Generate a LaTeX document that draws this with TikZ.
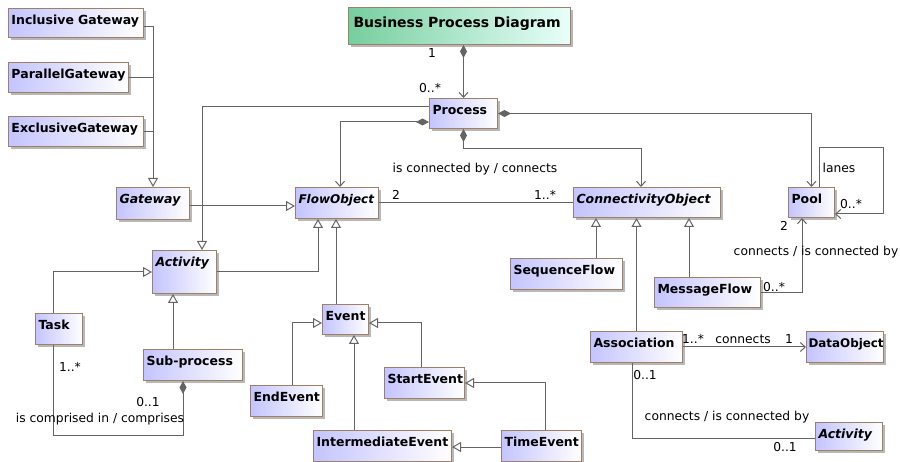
\documentclass[tikz,border=0pt]{standalone}
\usepackage{fontspec}
\setmainfont{DejaVu Sans}
\usetikzlibrary{arrows.meta,shadows}

\definecolor{clsblue}{RGB}{196,196,255}
\definecolor{clsedge}{RGB}{160,128,100}
\definecolor{diagleft}{RGB}{118,206,158}
\definecolor{diagright}{RGB}{232,255,250}
\definecolor{linegray}{RGB}{100,100,100}

\begin{document}
\begin{tikzpicture}[x=1pt, y=-1pt,
    cls/.style 2 args={draw=clsedge, line width=1pt, left color=clsblue, right color=white,
        drop shadow={shadow xshift=2.5pt, shadow yshift=-2.5pt, fill=black!28, opacity=1},
        anchor=north west, inner xsep=3pt, inner ysep=0pt, align=left,
        text width=#1pt-6pt, text height=16pt, text depth=#2pt-16pt,
        font=\bfseries\fontsize{12.5}{14}\selectfont},
    diagram/.style 2 args={cls={#1}{#2}, left color=diagleft, right color=diagright,
        inner xsep=5pt, text width=#1pt-10pt, text height=20pt, text depth=#2pt-20pt,
        font=\bfseries\fontsize{14}{16}\selectfont},
    abs/.style={font=\bfseries\itshape\fontsize{12.5}{14}\selectfont},
    lbl/.style={inner sep=0pt, font=\fontsize{12.3}{14}\selectfont},
    wire/.style={draw=linegray, line width=1pt},
    gen/.style={wire, -{Triangle[open, length=9pt, width=10pt]}},
    nav/.style={wire, -{Straight Barb[length=5pt, width=9pt]}},
    comp/.style={wire, {Diamond[length=13pt, width=7pt]}-{Straight Barb[length=5pt, width=9pt]}},
    owner/.style={wire, {Diamond[length=13pt, width=7pt]}-}]

    \useasboundingbox (0,0) rectangle (900,462);

    % Classes
    \node[diagram={222}{37}] (bpd) at (348,7) {Business~Process~Diagram};
    \node[cls={68}{30}] (proc) at (429,98) {Process};
    \node[cls={135}{29}] (incl) at (8,8) {Inclusive~Gateway};
    \node[cls={120}{30}] (par) at (8,62) {ParallelGateway};
    \node[cls={135}{30}] (excl) at (8,116) {ExclusiveGateway};
    \node[cls={73}{32}, abs] (gw) at (116,187) {Gateway};
    \node[cls={83}{31}, font=\bfseries\itshape\fontsize{12}{14}\selectfont] (flow) at (295,187) {FlowObject};
    \node[cls={147}{30}, abs] (cobj) at (573,187) {ConnectivityObject};
    \node[cls={46}{30}] (pool) at (788,187) {Pool};
    \node[cls={64}{43}, abs] (act) at (152,250) {Activity};
    \node[cls={47}{31}] (task) at (35,313) {Task};
    \node[cls={99}{31}] (sub) at (143,349) {Sub-process};
    \node[cls={112}{31}] (seq) at (510,258) {SequenceFlow};
    \node[cls={106}{30}] (msg) at (654,277) {MessageFlow};
    \node[cls={46}{30}] (ev) at (322,304) {Event};
    \node[cls={72}{31}] (endev) at (250,385) {EndEvent};
    \node[cls={80}{31}] (start) at (384,367) {StartEvent};
    \node[cls={138}{31}] (inter) at (313,430) {IntermediateEvent};
    \node[cls={80}{31}] (time) at (501,430) {TimeEvent};
    \node[cls={92}{31}] (assoc) at (590,331) {Association};
    \node[cls={77}{31}, inner xsep=2pt, text width=73pt, font=\bfseries\fontsize{11.9}{14}\selectfont] (data) at (806,331) {DataObject};
    \node[cls={67}{28}, abs] (act2) at (815,422) {Activity};

    % Composition
    \draw[comp] (bpd.south -| proc.north) -- (proc.north);
    \draw[comp] (proc.west |- 0,122) -| (340,0 |- flow.north);
    \draw[comp] (proc.east) -| (pool.north);
    \draw[comp] (proc.south) -- ++(0,20) -| (641,0 |- cobj.north);
    \draw[owner] (183,0 |- sub.south) -- (183,435) -| (53,0 |- task.south);

    % Generalization
    \draw[gen] (incl.east |- 0,27) -| (gw.north);
    \draw[wire] (par.east) -- (par.east -| gw.north);
    \draw[wire] (excl.east) -- (excl.east -| gw.north);
    \draw[gen] (gw.east |- 0,206) -- (flow.west |- 0,206);
    \draw[gen] (proc.west |- 0,107) -| (202,0 |- act.north);
    \draw[gen] (act.east) -| (318,0 |- flow.south);
    \draw[gen] (336,0 |- ev.north) -- (336,0 |- flow.south);
    \draw[gen] (53,0 |- task.north) |- (act.west);
    \draw[gen] (173,0 |- sub.north) -- (173,0 |- act.south);
    \draw[gen] (292,0 |- endev.north) |- (ev.west |- 0,323);
    \draw[gen] (421,0 |- start.north) |- (ev.east |- 0,323);
    \draw[gen] (354,0 |- inter.north) -- (354,0 |- ev.south);
    \draw[gen] (time.west |- 0,447) -- (inter.east |- 0,447);
    \draw[gen] (545,0 |- time.north) |- (start.east);
    \draw[gen] (596,0 |- seq.north) -- (596,0 |- cobj.south);
    \draw[gen] (assoc.north) -- (assoc.north |- cobj.south);
    \draw[gen] (689,0 |- msg.north) -- (689,0 |- cobj.south);

    % Associations
    \draw[wire] (flow.east |- 0,203) -- (cobj.west |- 0,203);
    \draw[nav] (msg.east) -| (802,0 |- pool.south);
    \draw[nav] (819,0 |- pool.north) -- (819,148) -| (883,214) -- (pool.east |- 0,214);
    \draw[nav] (assoc.east |- 0,347) -- (data.west |- 0,347);
    \draw[wire] (632,0 |- assoc.south) |- (act2.west |- 0,438);

    % Multiplicities and role names
    \node[lbl] (m1) at (432,53) {1};
    \node[lbl] (m2) at (430,88) {0..*};
    \node[lbl] (r1) at (475,169) {is connected by / connects};
    \node[lbl] (m3) at (396,195) {2};
    \node[lbl] (m4) at (545,195) {1..*};
    \node[lbl] (r2) at (839,168) {lanes};
    \node[lbl] (m5) at (851,204) {0..*};
    \node[lbl] (m6) at (784,226) {2};
    \node[lbl] (r3) at (816,252) {connects / is connected by};
    \node[lbl] (m7) at (774,287) {0..*};
    \node[lbl] (m8) at (70,367) {1..*};
    \node[lbl] (m9) at (148,402) {0..1};
    \node[lbl] (r4) at (100,419) {is comprised in / comprises};
    \node[lbl] (m10) at (693,339) {1..*};
    \node[lbl] (r5) at (743,339) {connects};
    \node[lbl] (m11) at (789,339) {1};
    \node[lbl] (m12) at (645,375) {0..1};
    \node[lbl] (r6) at (727,417) {connects / is connected by};
    \node[lbl] (m13) at (785,447) {0..1};

\end{tikzpicture}
\end{document}
